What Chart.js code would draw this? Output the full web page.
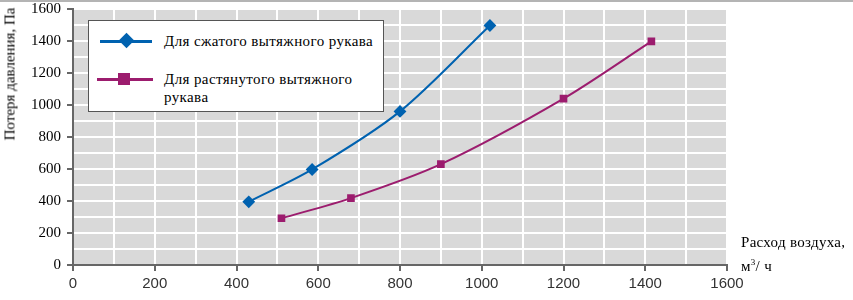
<!DOCTYPE html>
<html>
<head>
<meta charset="utf-8">
<script src="https://cdn.jsdelivr.net/npm/chart.js@4.4.1/dist/chart.umd.min.js"></script>
<style>
  html, body { margin: 0; padding: 0; background: #fff; }
  #wrap { position: relative; width: 853px; height: 300px; border-top: 2px solid #b4b4b4; box-sizing: border-box; }
  #c { position: absolute; left: 0; top: 0; }
  .serif { font-family: "Liberation Serif", "Times New Roman", "DejaVu Serif", serif; font-weight: normal; color: #000; }
  #ytitle { position: absolute; left: 10px; top: 72px; transform: translate(-50%, -50%) rotate(-90deg); white-space: nowrap; font-size: 15px; }
  #xtitle { position: absolute; left: 741px; top: 230px; font-size: 15px; line-height: 20px; letter-spacing: 0.3px; }
  #xtitle sup { font-size: 9px; }
  #legend { position: absolute; left: 88px; top: 18px; width: 294px; height: 90px; background: #fff; border: 1.5px solid #555; font-size: 15px; }
  .ln { position: absolute; height: 2.5px; }
  .mk { position: absolute; }
  .lt { position: absolute; line-height: 18px; letter-spacing: 0.4px; }
</style>
</head>
<body>
<div id="wrap">
  <canvas id="c" width="853" height="298"></canvas>
  <div id="ytitle" class="serif">Потеря давления, Па</div>
  <div id="xtitle" class="serif">Расход воздуха,<br>м<sup>3</sup>/ ч</div>
  <div id="legend" class="serif">
    <div class="ln" style="left:11px; top:19px; width:52px; background:#0062b0;"></div>
    <div class="mk" style="left:32px; top:14px; width:11px; height:11px; background:#0062b0; transform:rotate(45deg);"></div>
    <div class="lt" style="left:75px; top:11px;">Для сжатого вытяжного рукава</div>
    <div class="ln" style="left:8px; top:57px; width:56px; background:#9c1c6e;"></div>
    <div class="mk" style="left:29px; top:52px; width:12px; height:12px; background:#9c1c6e;"></div>
    <div class="lt" style="left:75px; top:49px;">Для растянутого вытяжного<br>рукава</div>
  </div>
</div>
<script>
const compressedX = [430, 585, 800, 1020];
const compressedY = [395, 597, 960, 1497];
const stretchedX = [510, 680, 900, 1200, 1415];
const stretchedY = [292, 418, 630, 1040, 1398];
const axisMin = 0;
const axisMax = 1600;
const gridStep = 100;
const labelStep = 200;

const toPoints = (xs, ys) => xs.map((x, i) => ({ x: x, y: ys[i] }));

const plotBg = {
  id: 'plotBg',
  beforeDraw(chart) {
    const a = chart.chartArea;
    const ctx = chart.ctx;
    ctx.save();
    ctx.fillStyle = '#d9d9d9';
    ctx.fillRect(a.left, a.top, a.right - a.left, a.bottom - a.top);
    ctx.restore();
  }
};

const tickColor = ctx => (ctx.tick && ctx.tick.value % labelStep === 0) ? '#666' : 'rgba(0,0,0,0)';
const labelCb = v => (v % labelStep === 0) ? String(v) : '';

new Chart(document.getElementById('c').getContext('2d'), {
  type: 'line',
  data: {
    datasets: [{
      label: 'Для сжатого вытяжного рукава',
      data: toPoints(compressedX, compressedY),
      borderColor: '#0062b0',
      backgroundColor: '#0062b0',
      borderWidth: 2,
      pointStyle: 'rectRot',
      pointRadius: 5,
      tension: 0.3
    }, {
      label: 'Для растянутого вытяжного рукава',
      data: toPoints(stretchedX, stretchedY),
      borderColor: '#9c1c6e',
      backgroundColor: '#9c1c6e',
      borderWidth: 2,
      pointStyle: 'rect',
      pointRadius: 4,
      tension: 0.3
    }]
  },
  options: {
    responsive: false,
    animation: false,
    layout: { padding: { left: 0, right: 126, top: 5, bottom: 0 } },
    plugins: { legend: { display: false }, tooltip: { enabled: false } },
    scales: {
      x: {
        type: 'linear',
        min: axisMin, max: axisMax,
        afterFit: s => { s.height = 35; },
        ticks: { stepSize: gridStep, autoSkip: false, maxRotation: 0, callback: labelCb, color: '#333', padding: 4,
                 font: { family: '"Liberation Sans", Arial, sans-serif', size: 15 } },
        grid: { color: '#fff', lineWidth: 2, tickLength: 6, tickColor: tickColor, tickWidth: 2 },
        border: { color: '#666', width: 2 }
      },
      y: {
        min: axisMin, max: axisMax,
        afterFit: s => { s.width = 73; s.paddingTop = 0; s.paddingBottom = 0; },
        ticks: { stepSize: gridStep, autoSkip: false, callback: labelCb, color: '#000', padding: 6,
                 font: { family: '"Liberation Serif", "Times New Roman", serif', size: 15 } },
        grid: { color: '#fff', lineWidth: 2, tickLength: 6, tickColor: tickColor, tickWidth: 2 },
        border: { color: '#666', width: 2 }
      }
    }
  },
  plugins: [plotBg]
});
</script>
</body>
</html>
